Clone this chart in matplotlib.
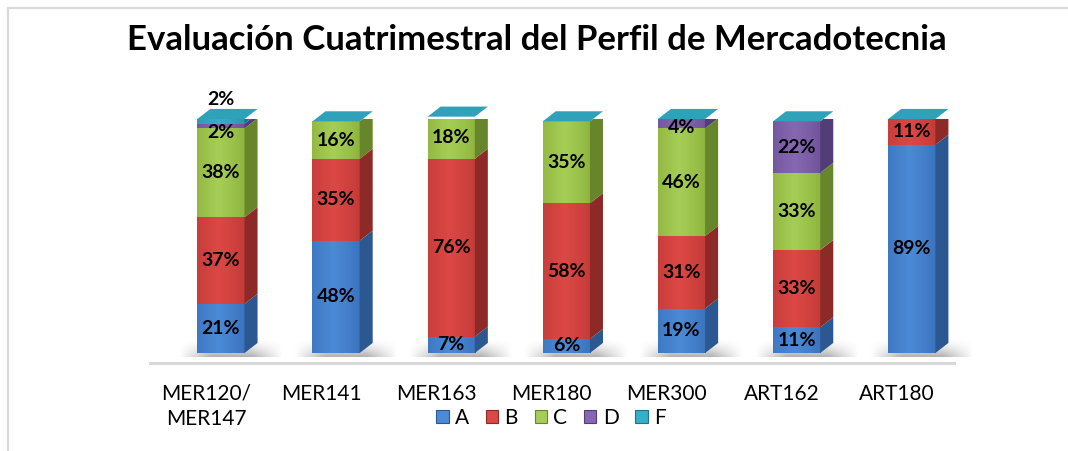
import numpy as np
import matplotlib
matplotlib.use("Agg")
import matplotlib.pyplot as plt
from matplotlib.colors import LinearSegmentedColormap
from matplotlib.patches import Polygon, Rectangle
from matplotlib.lines import Line2D

plt.rcParams['font.family'] = ['Lato', 'DejaVu Sans']

categories = ["MER120/\nMER147", "MER141", "MER163", "MER180", "MER300", "ART162", "ART180"]
series_names = ["A", "B", "C", "D", "F"]
A = [21, 48, 7, 6, 19, 11, 89]
B = [37, 35, 76, 58, 31, 33, 11]
C = [38, 16, 18, 35, 46, 33, 0]
D = [2, 0, 0, 0, 4, 22, 0]
F = [2, 0, 0, 0, 0, 0, 0]
values = [A, B, C, D, F]

front_edge = ['#3a72bd', '#c23a37', '#8db33d', '#6f5399', '#2896ad']
front_mid = ['#4b8ad6', '#dc4845', '#a6cd55', '#8568b1', '#36afca']
side_col = ['#2b5891', '#8d2a28', '#67862b', '#523d76', '#1d7487']
top_col = '#2fa1b9'

W, H = 1068, 451
fig = plt.figure(figsize=(W / 100, H / 100), dpi=100)
fig.patch.set_facecolor('white')

# chart border (cropped box)
fig.add_artist(Line2D([8 / W, 8 / W], [0, 1 - 8 / H], color='#d9d9d9', lw=1.5))
fig.add_artist(Line2D([8 / W, 1], [1 - 8 / H, 1 - 8 / H], color='#d9d9d9', lw=1.5))

ax = fig.add_axes([148.4 / W, (H - 353) / H, 806 / W, 234 / H])
ax.set_facecolor('none')

bw = 0.41      # bar front width (category units)
shift = 0.13   # perspective shift of bar front
dx = 0.113     # depth in x
dy = 4.3       # depth in y (percent units)

n = len(categories)
xs = np.arange(n)

# floor line
ax.plot([-0.486, 6.5], [-4.3, -4.3], color='#d9d9d9', lw=2.2, clip_on=False, zorder=0)

grad = np.linspace(0, 1, 64)
prof = 1 - np.abs(grad - 0.45) / 0.55
prof = np.clip(prof, 0, 1) ** 0.8

# shadow alpha map
sx = np.linspace(0, 1, 80)
sy = np.linspace(0, 1, 30)
hx = np.clip(np.minimum(sx / 0.3, (1 - sx) / 0.3), 0, 1)
vy = np.clip(1 - sy, 0, 1) ** 1.3
shadow = np.zeros((30, 80, 4))
shadow[..., :3] = 0.45
shadow[..., 3] = 0.55 * np.outer(vy, hx)

for i in xs:
    x0 = i + shift - bw / 2
    x1 = x0 + bw
    ax.imshow(shadow, aspect='auto', origin='lower', interpolation='bilinear',
              extent=(x0 - 0.16, x1 + dx + 0.22, -1.5, 6.0), zorder=1, clip_on=False)
    bottom = 0
    for s, vals in enumerate(values):
        v = vals[i]
        if v <= 0:
            continue
        top = bottom + v
        cmap = LinearSegmentedColormap.from_list('c', [front_edge[s], front_mid[s]])
        ax.imshow(prof[None, :], cmap=cmap, vmin=0, vmax=1, aspect='auto',
                  extent=(x0, x1, bottom, top), zorder=3, interpolation='bilinear')
        ax.add_patch(Polygon([(x1, bottom), (x1 + dx, bottom + dy), (x1 + dx, top + dy), (x1, top)],
                             closed=True, color=side_col[s], lw=0, zorder=3))
        bottom = top
    total = bottom
    ax.add_patch(Polygon([(x0, total), (x0 + dx, total + dy), (x1 + dx, total + dy), (x1, total)],
                         closed=True, color=top_col, lw=0, zorder=4, clip_on=False))

    # data labels
    bottom = 0
    nz = [s for s in range(len(values)) if values[s][i] > 0]
    for s in nz:
        v = values[s][i]
        top = bottom + v
        if s == nz[-1] and v < 3:
            y = total + 8.5
        elif v < 5:
            y = top - 3.8
        else:
            y = bottom + v / 2
        ax.text(i + shift, y, f"{v}%", ha='center', va='center', fontsize=14,
                fontweight='bold', color='black', zorder=6, clip_on=False)
        bottom = top

ax.set_xlim(-0.5, 6.5)
ax.set_ylim(0, 100)
ax.set_yticks([])
ax.set_xticks(xs)
ax.set_xticklabels(categories, fontsize=15, linespacing=1.35)
ax.tick_params(axis='x', length=0, pad=22)
for sp in ax.spines.values():
    sp.set_visible(False)

fig.text(537 / W, 1 - 40 / H, "Evaluación Cuatrimestral del Perfil de Mercadotecnia",
         ha='center', va='center', fontsize=25, fontweight='bold', color='black')

handles = [Rectangle((0, 0), 1, 1, facecolor=front_mid[s], edgecolor=side_col[s], lw=0.8)
           for s in range(len(series_names))]
fig.legend(handles, series_names, loc='center', bbox_to_anchor=(551 / W, 1 - 418 / H),
           ncol=5, frameon=False, fontsize=15, handlelength=0.6, handleheight=0.6,
           handletextpad=0.3, columnspacing=0.8, borderpad=0)

fig.savefig("out.png", dpi=100, facecolor='white')
